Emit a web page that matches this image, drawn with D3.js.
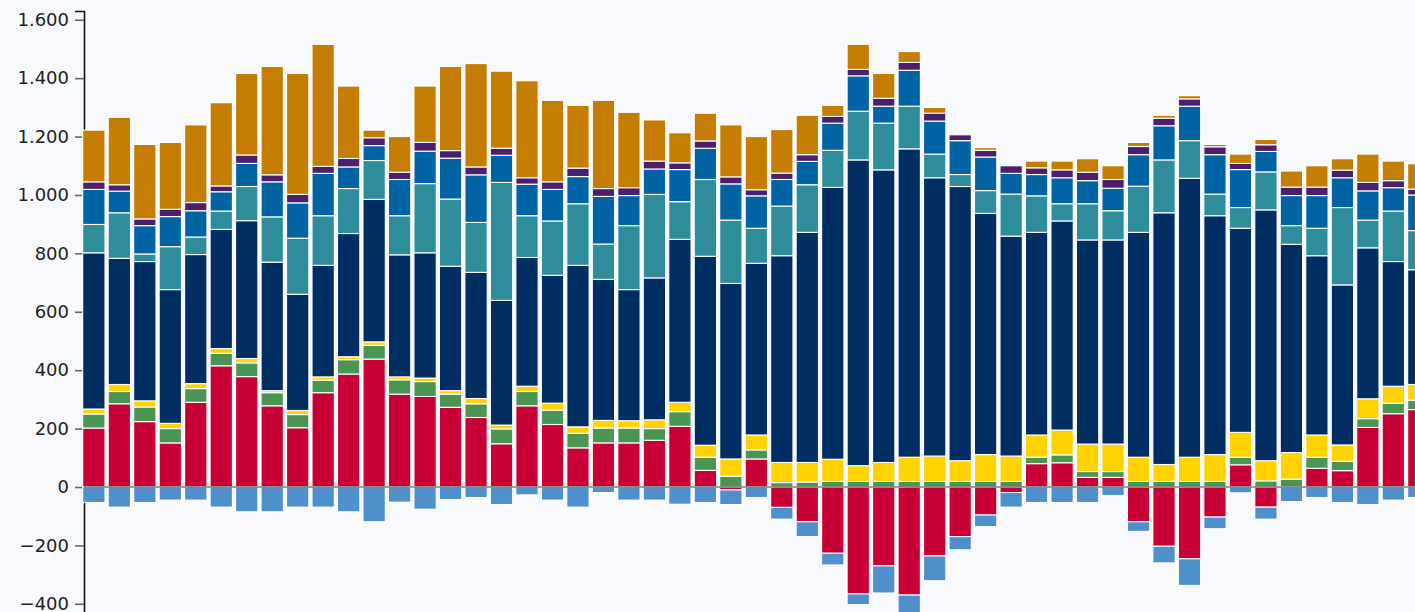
<!DOCTYPE html>
<html><head><meta charset="utf-8">
<script src="https://cdn.jsdelivr.net/npm/d3@7"></script>
<style>
html,body{margin:0;padding:0;background:#f7f9fc;overflow:hidden}
svg{display:block}
</style></head><body>
<svg id="chart" width="1415" height="612"></svg>
<script>
// ---- data ----
const categories = d3.range(1, 54).map(d => "P" + d);

const red    = [202,285,224,151,290,415,378,278,203,323, 387,438,318,310,273,238,148,278,214,134, 151,151,160,208,57,-10,96,-70,-119,-227, -366,-270,-370,-236,-170,-96,-19,80,83,33, 33,-119,-203,-246,-103,76,-69,0,64,56, 204,251,265];
const green  = [48,42,50,49,47,43,47,45,45,43, 49,47,49,51,45,47,51,49,49,50, 51,51,40,50,45,37,31,15,17,19, 19,19,19,19,19,19,19,22,27,20, 20,19,19,19,19,26,21,27,38,32, 30,36,32];
const yellow = [17,24,21,18,17,16,15,7,14,11, 10,12,10,12,12,18,13,18,24,22, 26,25,30,32,41,59,51,69,67,76, 54,65,83,87,71,92,87,76,85,94, 94,83,58,83,92,85,69,91,76,56, 68,58,54];
const navy   = [535,432,477,458,442,408,472,440,398,382, 422,488,418,429,426,432,427,441,438,553, 483,449,486,558,647,601,588,708,788,931, 1047,1002,1056,953,939,826,753,694,716,699, 699,770,862,955,818,699,859,713,614,548, 517,427,393];
const teal   = [97,156,26,147,60,63,117,155,192,170, 154,133,134,237,230,171,404,143,186,211, 121,219,286,129,263,217,120,170,163,127, 167,160,146,81,41,78,144,125,59,124, 100,158,181,129,74,71,130,64,94,265, 95,173,134];
const blue   = [120,74,97,103,90,66,79,120,121,145, 74,51,124,111,140,163,93,108,108,93, 163,103,87,110,107,124,111,91,80,93, 121,58,123,113,116,115,71,73,89,79, 77,108,117,118,135,130,70,103,112,102, 100,80,122];
const purple = [26,22,23,25,28,20,29,24,29,24, 29,27,25,30,26,27,24,22,26,29, 27,27,27,23,25,24,21,22,23,23, 22,27,27,27,20,23,26,23,27,29, 30,28,26,25,27,21,23,29,29,26, 29,24,20];
const orange = [177,231,255,229,266,285,279,371,414,418, 248,26,122,193,288,354,264,332,279,215, 302,258,141,103,95,178,182,149,135,38, 86,85,37,20,0,9,0,23,30,46, 47,14,10,11,8,32,18,55,73,39, 97,67,87];
const negBlue = [-53,-69,-53,-45,-45,-69,-85,-85,-69,-69, -85,-119,-52,-76,-43,-36,-60,-27,-45,-69, -19,-45,-45,-59,-53,-50,-36,-40,-51,-40, -37,-93,-70,-85,-45,-40,-50,-53,-53,-53, -29,-33,-57,-91,-40,-20,-41,-50,-36,-53, -60,-45,-36];

const seriesKeys   = ["red","green","yellow","navy","teal","blue","purple","orange","negBlue"];
const seriesValues = [red, green, yellow, navy, teal, blue, purple, orange, negBlue];
const seriesColors = ["#c80036","#4a9553","#ffd200","#002d62","#2f8d9b","#0064a4","#4b1f6f","#c47d00","#4f8fcc"];
const yTicks = [-400,-200,0,200,400,600,800,1000,1200,1400,1600];

// ---- build table ----
const table = categories.map((c, i) => {
  const row = {cat: c};
  seriesKeys.forEach((k, j) => row[k] = seriesValues[j][i]);
  return row;
});

const stacked = d3.stack().keys(seriesKeys).offset(d3.stackOffsetDiverging)(table);

const svg = d3.select("#chart");
const step = 25.48, pad = 0.124, x0 = 82.7;
const x = d3.scaleBand().domain(categories)
  .range([x0, x0 + step * (categories.length - pad)])
  .paddingInner(pad).paddingOuter(0);
const y = d3.scaleLinear().domain([-450, 1630]).range([618.4, 11]);

const locale = d3.formatLocale({decimal: ",", thousands: ".", grouping: [3], currency: ["", "€"]});

// axis
const axisG = svg.append("g").attr("transform", "translate(84,0)")
  .call(d3.axisLeft(y).tickValues(yTicks).tickFormat(locale.format(",")).tickSize(9).tickSizeOuter(9).tickPadding(6));
axisG.select(".domain").attr("stroke", "#111").attr("stroke-width", 1.6);
axisG.selectAll(".tick line").attr("stroke", "#666").attr("stroke-width", 1.6);
axisG.selectAll(".tick text").attr("font-family", "'DejaVu Sans', Verdana, sans-serif")
  .attr("font-size", 18).attr("fill", "#222");

// bars
svg.append("g").selectAll("g").data(stacked).join("g")
  .attr("fill", (d, i) => seriesColors[i])
  .selectAll("rect")
  .data(d => d.filter(s => Math.abs(y(s[0]) - y(s[1])) > 0.01))
  .join("rect")
  .attr("x", d => x(d.data.cat))
  .attr("width", x.bandwidth())
  .attr("y", d => Math.min(y(d[0]), y(d[1])))
  .attr("height", d => Math.abs(y(d[0]) - y(d[1])))
  .attr("stroke", "#ffffff")
  .attr("stroke-width", 1.1);

// zero line
svg.append("line")
  .attr("x1", 84).attr("x2", 1415)
  .attr("y1", y(0)).attr("y2", y(0))
  .attr("stroke", "#555").attr("stroke-width", 1.5).attr("opacity", 0.75);
</script>
</body></html>
